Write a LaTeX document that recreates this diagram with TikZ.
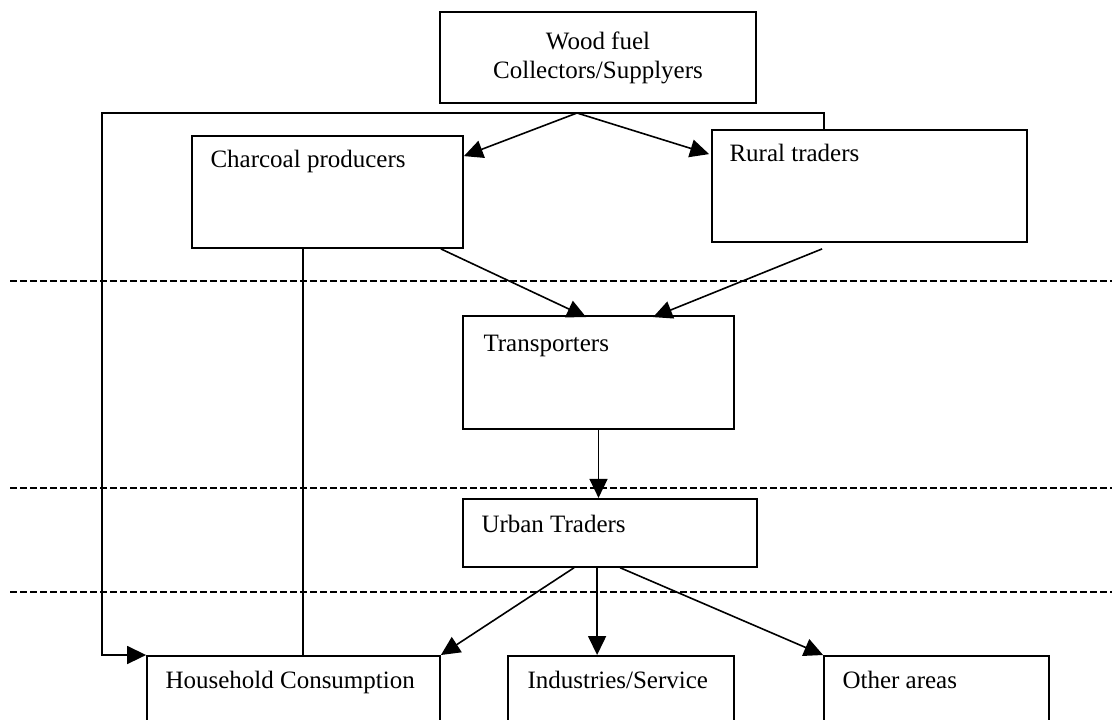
\documentclass[tikz,border=0pt]{standalone}
\usepackage{fontspec}
\setmainfont{Liberation Serif}
\usetikzlibrary{arrows.meta,calc,positioning}

\begin{document}
\begin{tikzpicture}[x=0.5pt,y=-0.5pt,>={Triangle[length=9.5pt,width=9pt]}]

  \tikzstyle{box}=[draw, line width=0.9pt, rectangle, inner sep=0pt];
  \tikzstyle{tag}=[anchor=base west, inner sep=0pt, font=\fontsize{12.5}{14.5}\selectfont];
  \tikzstyle{link}=[line width=0.8pt];
  \tikzstyle{level}=[line width=0.9pt, dash pattern=on 3.5pt off 1.5pt];

  \useasboundingbox (0,0) rectangle (1112,719);
  \clip (0,0) rectangle (1112,719);

  %% suppliers and producers
  \node [box,minimum width=158pt,minimum height=45.5pt,align=center,font=\fontsize{12.5}{14.5}\selectfont] (wf) at (598,57.5) {Wood fuel\\Collectors/Supplyers};
  \node [box,minimum width=135.5pt,minimum height=56pt] (cp) at (327.5,192) {};
  \node [box,minimum width=157.5pt,minimum height=56pt] (rt) at (869.5,186) {};

  %% transport and trade
  \node [box,minimum width=135.5pt,minimum height=56.5pt] (tr) at (598.5,372.5) {};
  \node [box,anchor=north west,minimum width=147pt,minimum height=34pt] (ut) at ($(tr.south west)+(0,68)$) {};

  %% consumers
  \node [box,anchor=north,minimum width=146.5pt,minimum height=50pt] (hc) at (293.5,655) {};
  \node [box,anchor=north,minimum width=113pt,minimum height=50pt] (is) at (621,655) {};
  \node [box,anchor=north,minimum width=112.5pt,minimum height=50pt] (oa) at (936.5,655) {};

  \node [tag] (cpt) at ($(cp.north west)+(19,32)$) {Charcoal producers};
  \node [tag] (rtt) at ($(rt.north west)+(18,32)$) {Rural traders};
  \node [tag] (trt) at ($(tr.north west)+(21,36)$) {Transporters};
  \node [tag] (utt) at ($(ut.north west)+(19,35)$) {Urban Traders};
  \node [tag] (hct) at ($(hc.north west)+(19,33)$) {Household Consumption};
  \node [tag] (ist) at ($(is.north west)+(20,33)$) {Industries/Service};
  \node [tag] (oat) at ($(oa.north west)+(19,33)$) {Other areas};

  %% levels
  \foreach \y in {281,488,592}
    \draw [level] (10,\y) -- (1112,\y);

  %% flows
  \coordinate (fork) at (577,113);
  \coordinate (turn) at (102,113);
  \coordinate (rtup) at (824,113);
  \coordinate (drop) at ($(cp.south west)+(112,0)$);
  \coordinate (mid) at ($(ut.south west)+(135,0)$);

  \draw [link,->] (rt.north -| rtup) -- (rtup) -- (turn) |- (hc.north west);
  \draw [link,->] (fork) -- ($(cp.north east)+(0,21)$);
  \draw [link,->] (fork) -- ($(rt.north west)+(-2,25)$);
  \draw [link] (drop) -- (drop |- hc.north);

  \draw [link,->] ($(cp.south east)+(-23,0)$) -- ($(tr.north west)+(124,2)$);
  \draw [link,->] ($(rt.south west)+(111,6)$) -- ($(tr.north west)+(191,2)$);
  \draw [link,->] (tr.south) -- (tr.south |- ut.north);

  \draw [link,->] ($(ut.south west)+(112,0)$) -- (hc.north east);
  \draw [link,->] (mid) -- (mid |- is.north);
  \draw [link,->] ($(ut.south west)+(158,0)$) -- (oa.north west);

\end{tikzpicture}
\end{document}
